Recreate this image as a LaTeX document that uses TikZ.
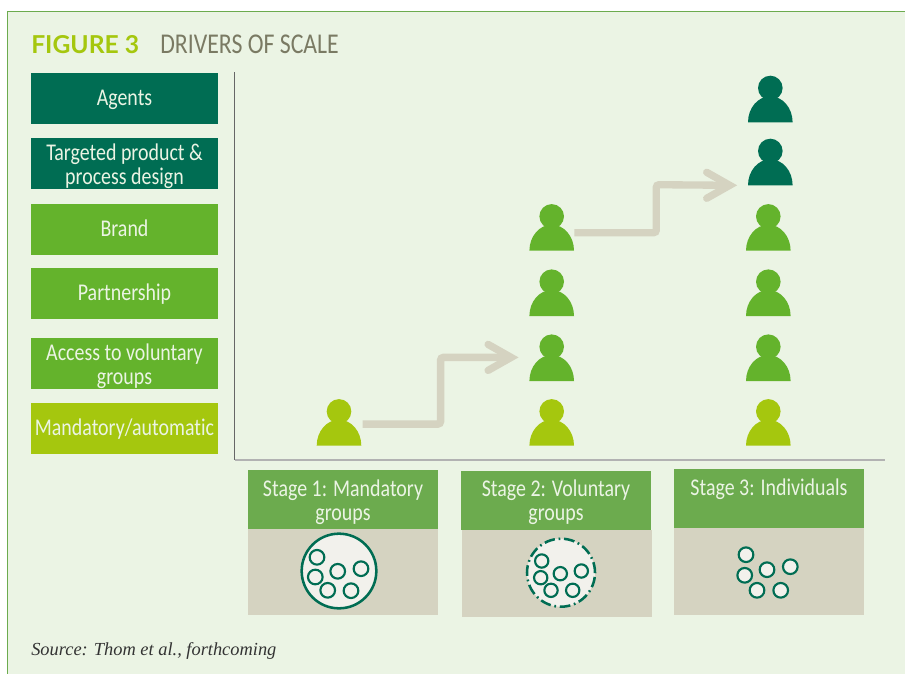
\documentclass[tikz,border=0pt]{standalone}
\usepackage{fontspec}
\usetikzlibrary{calc}
\setmainfont{Liberation Serif}
\newfontfamily\labelfont[FakeStretch=.83,Ligatures=NoCommon]{Carlito}
\newfontfamily\titlefont{Lato}
\definecolor{panelgreen}{HTML}{EBF4E4}
\definecolor{borderline}{HTML}{6CAB4E}
\definecolor{darkgreen}{HTML}{006D53}
\definecolor{midgreen}{HTML}{64B32C}
\definecolor{limegreen}{HTML}{A5C70E}
\definecolor{headgreen}{HTML}{6CAB4E}
\definecolor{stone}{HTML}{D5D3C1}
\definecolor{chalk}{HTML}{F2F1EC}
\definecolor{titlegrey}{HTML}{7A7A63}
\newcommand{\toprow}{\rule{0pt}{17pt}}
\newcommand{\onerow}{\rule[-7pt]{0pt}{24pt}}
\newcommand{\person}[4]{
    \node [inner sep=0pt,minimum width=33.5pt,minimum height=35pt,anchor=south] (#1) at (#2,#3) {};
    \fill [#4] (#2,#3-34.3) circle (12.3);
    \fill [#4] (#2-22.3,#3) arc [start angle=180,end angle=360,x radius=22.3,y radius=26] -- cycle;
}
\tikzset{
    leftbox/.style={minimum width=140.25pt,minimum height=38.25pt,inner sep=0pt,align=center,text=panelgreen,font=\labelfont\fontsize{18}{18}\selectfont},
    stagehead/.style={minimum width=142.5pt,minimum height=44.25pt,inner sep=0pt,align=center,fill=headgreen,text=panelgreen,font=\labelfont\fontsize{18}{18}\selectfont},
    stagebody/.style={minimum width=142.5pt,inner sep=0pt,fill=stone},
    stepline/.style={draw=stone,line width=5.5pt,rounded corners=2pt},
    stepbarb/.style={draw=stone,line width=5.5pt,line cap=round,miter limit=6},
    member/.style={draw=darkgreen,line width=1.6pt,fill=chalk,inner sep=0pt,circle,minimum size=11pt},
}
\begin{document}
\begin{tikzpicture}[x=.75pt,y=-.75pt]
    \useasboundingbox (0,0) rectangle (905,674);
    \fill [panelgreen] (7.5,11.5) rectangle (905,674);
    \draw [draw=borderline,line width=1pt] (905,11.5) -- (7.5,11.5) -- (7.5,674);
    \node [anchor=west,inner sep=0pt,text=limegreen,font=\titlefont\bfseries\fontsize{18.5}{20}\selectfont] (figno) at (31,44.5) {FIGURE 3};
    \node [anchor=west,inner sep=0pt,text=titlegrey,font=\labelfont\fontsize{21.5}{22}\selectfont] (figtitle) at (160,44) {DRIVERS OF SCALE};
    \node [leftbox,fill=darkgreen] (agents) at (124.5,98.5) {\onerow Agents};
    \node [leftbox,fill=darkgreen] (design) at (124.5,163.5) {\toprow Targeted product \&\\process design};
    \node [leftbox,fill=midgreen] (brand) at (124.5,229.5) {\onerow Brand};
    \node [leftbox,fill=midgreen] (partner) at (124.5,293.5) {\onerow Partnership};
    \node [leftbox,fill=midgreen] (access) at (124.5,363.5) {\toprow Access to voluntary\\groups};
    \node [leftbox,fill=limegreen] (mandatory) at (124.5,428.5) {\onerow Mandatory/automatic};
    \coordinate (origin) at (234.5,460);
    \coordinate (ytop) at (234.5,72);
    \coordinate (xend) at (885,460);
    \draw [draw=black!60,line width=.8pt] (ytop) -- (origin);
    \draw [draw=black!30,line width=1pt] (origin) -- (xend);
    \person{pa}{339}{445.7}{limegreen}
    \person{pb}{551.7}{445.7}{limegreen}
    \person{pc}{551.7}{381}{midgreen}
    \person{pd}{551.7}{316}{midgreen}
    \person{pe}{551.7}{250.7}{midgreen}
    \person{pf}{768.3}{445.7}{limegreen}
    \person{pg}{768.3}{381}{midgreen}
    \person{ph}{768.3}{316}{midgreen}
    \person{pi}{768.3}{250.7}{midgreen}
    \person{pj}{770.3}{185.3}{darkgreen}
    \person{pk}{770.3}{122.3}{darkgreen}
    \coordinate (tipa) at ($(pc.west)+(-18,0)$);
    \coordinate (tipb) at ($(pj.south west)+(-18,0)$);
    \draw [stepline] ($(pa.east)+(1,2)$) -- ++(78,0) -- ++(0,-66.7) -- (tipa);
    \draw [stepbarb] ($(tipa)+(-23,-13)$) -- (tipa) -- ($(tipa)+(-23,13)$);
    \draw [stepline] ($(pe.east)+(0,5.6)$) -- ++(82,0) -- ++(0,-48) -- (tipb);
    \draw [stepbarb] ($(tipb)+(-23,-13)$) -- (tipb) -- ($(tipb)+(-23,13)$);
    \node [stagehead] (head1) at (343,499.5) {\toprow Stage 1: Mandatory\\groups};
    \node [stagehead] (head2) at (556,500) {\rule{0pt}{15.5pt}Stage 2: Voluntary\\groups};
    \node [stagehead] (head3) at (769,498.5) {\toprow Stage 3: Individuals\\\phantom{g}};
    \node [stagebody,minimum height=64.5pt] (body1) at (343,572) {};
    \node [stagebody,minimum height=65.25pt] (body2) at (556.5,573.5) {};
    \node [stagebody,minimum height=65.25pt] (body3) at (768.5,571.5) {};
    \node [circle,draw=darkgreen,line width=1.9pt,fill=chalk,minimum size=56pt,inner sep=0pt] (group1) at (339,571) {};
    \node [circle,draw=darkgreen,line width=1.9pt,fill=chalk,minimum size=51pt,inner sep=0pt,dash pattern=on 8pt off 2.8pt on 1.3pt off 2.8pt] (group2) at (561,572.7) {};
    \foreach \i/\mx/\my in {1/317/557.3,2/315.3/577,3/337.7/571.3,4/361/568.7,5/327.7/590.3,6/351/590.7}
        \node [member] (ma\i) at (\mx,\my) {};
    \foreach \i/\mx/\my in {1/541.7/561,2/540.7/577.7,3/560.3/573.7,4/581.3/571,5/551/590.3,6/572.7/590.3}
        \node [member,minimum size=10pt] (mb\i) at (\mx,\my) {};
    \foreach \i/\mx/\my in {1/746/554.7,2/744.7/575.3,3/767/569.7,4/790.3/566.7,5/757/590.3,6/780.7/590.3}
        \node [member] (mc\i) at (\mx,\my) {};
    \node [anchor=west,inner sep=0pt,text=black!80,font=\itshape\fontsize{13.8}{16}\selectfont] (source) at (31,651) {Source: Thom et al., forthcoming};
\end{tikzpicture}
\end{document}
